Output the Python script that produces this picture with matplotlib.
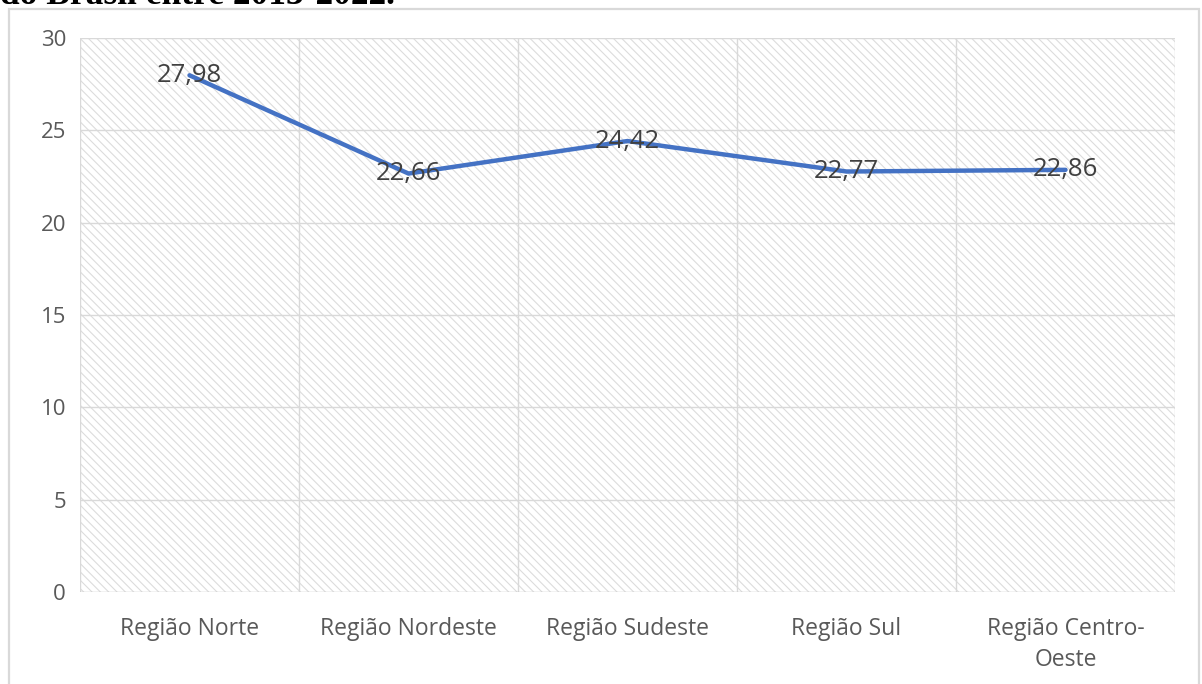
import matplotlib
matplotlib.use('Agg')
import matplotlib.pyplot as plt
from matplotlib.patches import Rectangle
import numpy as np

plt.rcParams['font.family'] = ['Open Sans', 'DejaVu Sans']
plt.rcParams['hatch.linewidth'] = 0.8

regioes = ['Região Norte', 'Região Nordeste', 'Região Sudeste', 'Região Sul', 'Região Centro-\nOeste']
valores = [27.98, 22.66, 24.42, 22.77, 22.86]
rotulos = ['27,98', '22,66', '24,42', '22,77', '22,86']
y_ticks = [0, 5, 10, 15, 20, 25, 30]

W, H = 1202, 684
fig = plt.figure(figsize=(W / 100, H / 100), dpi=100)
fig.patch.set_facecolor('white')

# moldura do gráfico
fig.patches.append(Rectangle((9 / W, -0.05), 1190 / W, 1.05 - 9 / H, transform=fig.transFigure,
                             facecolor='none', edgecolor='#d9d9d9', linewidth=1.6))

# título cortado no topo
fig.text(0.0, 1 - 4.5 / H, 'do Brasil entre 2013-2022.', family=['Liberation Serif', 'DejaVu Serif'],
         weight='bold', fontsize=25.5, ha='left', va='baseline', color='black')

ax = fig.add_axes([80 / W, (H - 592) / H, (1175 - 80) / W, (592 - 38) / H])
ax.set_facecolor('white')

# fundo hachurado da área de plotagem
ax.add_patch(Rectangle((0, 0), 1, 1, transform=ax.transAxes, facecolor='white',
                       edgecolor='#dcdcdc', linewidth=0, hatch='\\\\\\\\', zorder=0))

x = np.arange(len(regioes))
ax.set_xlim(-0.5, len(regioes) - 0.5)
ax.set_ylim(0, 30)

for yv in y_ticks[1:]:
    ax.axhline(yv, color='#d9d9d9', linewidth=1.0, zorder=1)
for xv in np.arange(-0.5, len(regioes), 1.0):
    ax.axvline(xv, color='#d9d9d9', linewidth=1.0, zorder=1)
ax.axhline(0, color='#bfbfbf', linewidth=1.0, zorder=1)

ax.plot(x, valores, color='#4472c4', linewidth=3.2, solid_joinstyle='round',
        solid_capstyle='round', zorder=3)

for xi, v, r in zip(x, valores, rotulos):
    ax.text(xi, v, r, ha='center', va='center', fontsize=18.5, color='#404040', zorder=4)

for s in ax.spines.values():
    s.set_visible(False)

ax.set_yticks(y_ticks)
ax.set_yticklabels([str(t) for t in y_ticks])
ax.set_xticks(x)
ax.set_xticklabels(regioes, linespacing=1.4)
ax.tick_params(axis='y', length=0, pad=10, labelsize=16, labelcolor='#595959')
ax.tick_params(axis='x', length=0, pad=18, labelsize=16.5, labelcolor='#595959')

fig.savefig('out.png', dpi=100)
